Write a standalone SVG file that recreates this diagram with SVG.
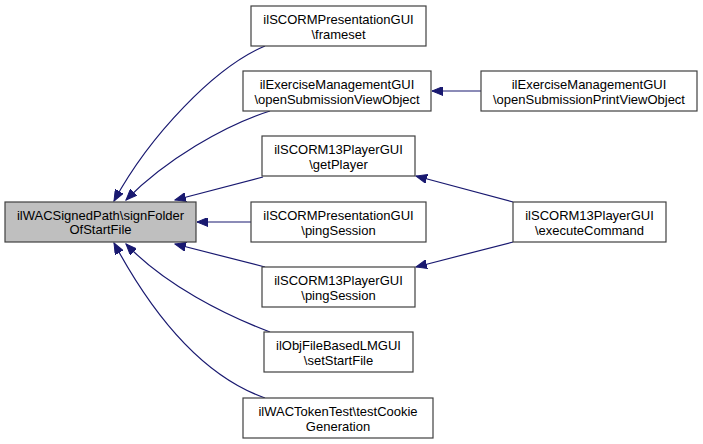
<svg xmlns="http://www.w3.org/2000/svg" width="703" height="444" viewBox="0 0 703 444">
<defs>
<style>
.n rect{fill:#ffffff;stroke:#404040;stroke-width:1.2}
.n.m rect{fill:#bfbfbf}
.n text{font-family:"Liberation Sans",Arial,Helvetica,sans-serif;font-size:13px;fill:#000000;text-anchor:middle}
.e path{fill:none;stroke:#191970;stroke-width:1.2;marker-end:url(#ah)}
</style>
<marker id="ah" markerUnits="userSpaceOnUse" markerWidth="12" markerHeight="9" refX="11" refY="4.5" orient="auto" viewBox="0 0 12 9">
<path d="M0,0 L11,4.5 L0,9 z" fill="#191970" stroke="#191970" stroke-width="1"/>
</marker>
</defs>
<rect width="703" height="444" fill="#ffffff"/>
<g id="connectors" class="e">
<path d="M265,46 C215,67 150,135 114,201"/>
<path d="M270,111 C225,125 165,160 126,200"/>
<path d="M263,177 L175,200"/>
<path d="M251,222 L197,222"/>
<path d="M265,267 L175,244"/>
<path d="M270,332 C225,315 165,285 126,244"/>
<path d="M265,398 C200,375 150,310 114,243"/>
<path d="M481,91 L432,91"/>
<path d="M513,202 L416,176"/>
<path d="M513,242 L416,267"/>
</g>
<g id="node-main" class="n m">
<rect x="5" y="202" width="191" height="40"/>
<text x="100.5" y="219.5">ilWACSignedPath\signFolder</text>
<text x="100.5" y="234">OfStartFile</text>
</g>
<g id="node-frameset" class="n">
<rect x="251" y="6" width="175" height="40"/>
<text x="338.5" y="24">ilSCORMPresentationGUI</text>
<text x="338.5" y="38.5">\frameset</text>
</g>
<g id="node-openSubmissionViewObject" class="n">
<rect x="243" y="71" width="188" height="40"/>
<text x="337" y="89">ilExerciseManagementGUI</text>
<text x="337" y="103.5">\openSubmissionViewObject</text>
</g>
<g id="node-openSubmissionPrintViewObject" class="n">
<rect x="481" y="71" width="216" height="40"/>
<text x="589" y="89">ilExerciseManagementGUI</text>
<text x="589" y="103.5">\openSubmissionPrintViewObject</text>
</g>
<g id="node-getPlayer" class="n">
<rect x="262" y="136" width="153" height="40"/>
<text x="338.5" y="154">ilSCORM13PlayerGUI</text>
<text x="338.5" y="168.5">\getPlayer</text>
</g>
<g id="node-presentationPingSession" class="n">
<rect x="251" y="202" width="175" height="40"/>
<text x="338.5" y="220">ilSCORMPresentationGUI</text>
<text x="338.5" y="234.5">\pingSession</text>
</g>
<g id="node-playerPingSession" class="n">
<rect x="262" y="267" width="153" height="40"/>
<text x="338.5" y="285">ilSCORM13PlayerGUI</text>
<text x="338.5" y="299.5">\pingSession</text>
</g>
<g id="node-setStartFile" class="n">
<rect x="264" y="332" width="149" height="40"/>
<text x="338.5" y="350">ilObjFileBasedLMGUI</text>
<text x="338.5" y="364.5">\setStartFile</text>
</g>
<g id="node-testCookieGeneration" class="n">
<rect x="243" y="398" width="190" height="40"/>
<text x="338" y="416">ilWACTokenTest\testCookie</text>
<text x="338" y="430.5">Generation</text>
</g>
<g id="node-executeCommand" class="n">
<rect x="513" y="202" width="153" height="40"/>
<text x="589.5" y="220">ilSCORM13PlayerGUI</text>
<text x="589.5" y="234.5">\executeCommand</text>
</g>
</svg>
